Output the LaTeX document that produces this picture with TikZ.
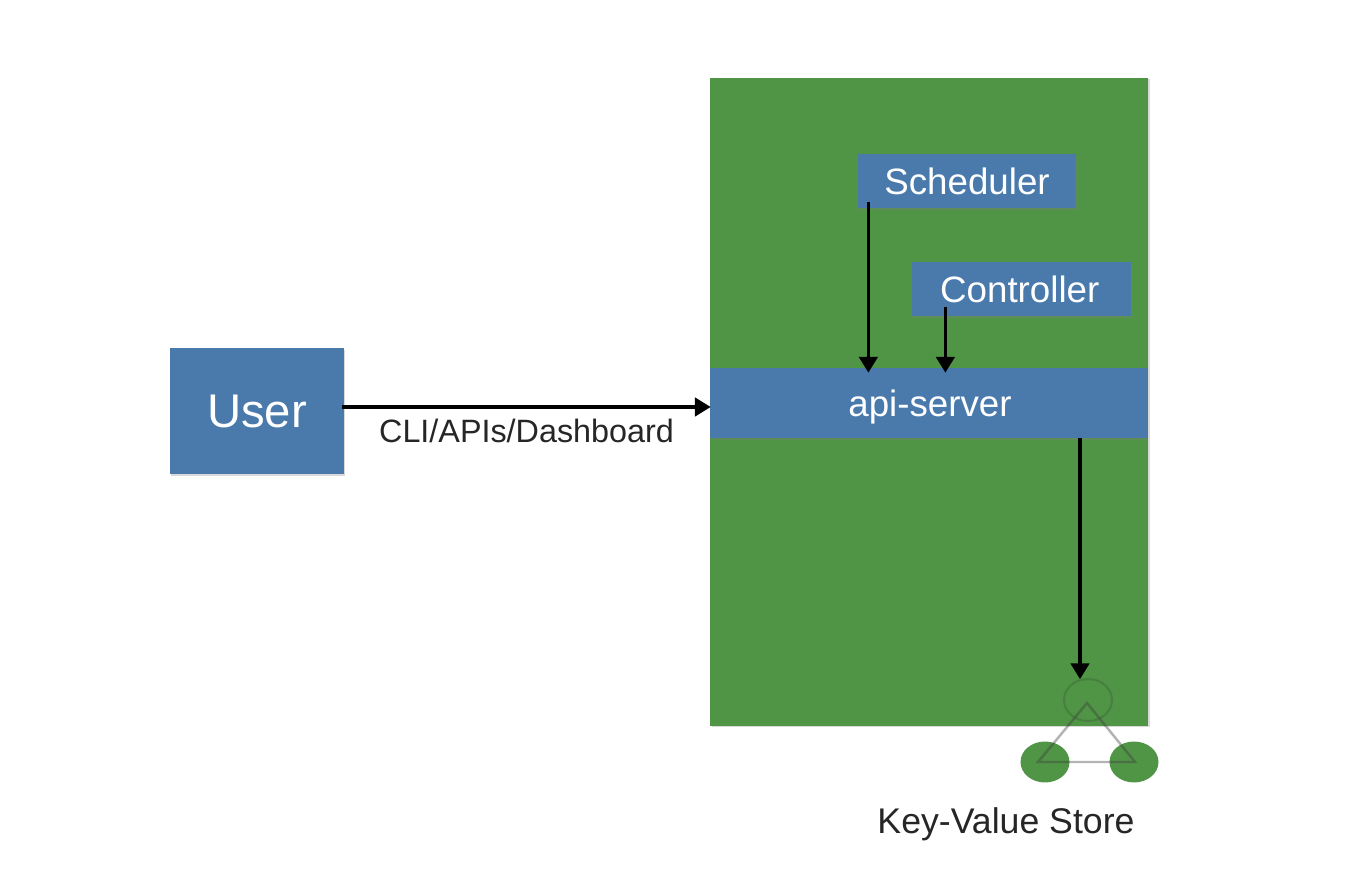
\documentclass[tikz,border=0pt]{standalone}
\usepackage{fontspec}
\setmainfont{Liberation Sans}
\usetikzlibrary{arrows.meta,shapes.geometric,shadows,calc}
\definecolor{boxgreen}{RGB}{80,148,70}
\definecolor{boxblue}{RGB}{74,122,172}
\tikzstyle{panel}=[rectangle,fill=boxgreen,inner sep=0pt,drop shadow={shadow xshift=1.2pt,shadow yshift=-0.8pt,opacity=0.3}]
\tikzstyle{comp}=[rectangle,fill=boxblue,text=white,inner sep=0pt,font=\fontsize{20.9}{24}\selectfont,drop shadow={shadow xshift=0.3pt,shadow yshift=-1.2pt,opacity=0.3}]
\tikzstyle{replica}=[ellipse,fill=boxgreen,minimum width=0.98cm,minimum height=0.82cm,inner sep=0pt]
\tikzstyle{flow} = [draw,line width=1.9pt,-{Triangle[length=9pt,width=10.5pt]}]
\tikzstyle{link} = [draw=black!75,line width=1.4pt,opacity=0.4]

\begin{document}
\begin{tikzpicture}[x=0.02cm,y=-0.02cm]
    \useasboundingbox (0,0) rectangle (1346,888);
    % First we draw the boxes
    \node[panel,minimum width=8.76cm,minimum height=12.96cm] (cluster) at (929,402) {};
    \node[comp,minimum width=8.76cm,minimum height=1.4cm] (api) at (929,403) {};
    \node[inner sep=0pt,text=white,font=\fontsize{20.9}{24}\selectfont] (apitext) at (930,407) {api-server};
    \node[comp,minimum width=4.36cm,minimum height=1.08cm] (sched) at (967,181) {Scheduler};
    \node[comp,minimum width=4.38cm,minimum height=1.08cm] (ctrl) at (1021.5,289) {\hspace{-2pt}Controller};
    \node[comp,minimum width=3.48cm,minimum height=2.52cm,font=\fontsize{26.9}{30}\selectfont] (user) at (257,411) {User};
    % The key-value store
    \foreach \pos/\name in {{(1088,700)/kvtop}, {(1045,762)/kvleft}, {(1134,762)/kvright}}
       \node[replica] (\name) at \pos {};
    \draw[draw=black,opacity=0.12,line width=1.2pt] (kvtop) ellipse [x radius=24,y radius=21];
    \node[font=\fontsize{20.3}{24}\selectfont,text=black!85] (kvlabel) at (1006,824) {Key-Value Store};
    \path[link] ($(kvtop.center)+(-1,3)$) -- ($(kvleft.center)+(-7,0)$) -- ($(kvright.center)+(1,0)$) -- cycle;
    % Connect the boxes with arrows
    \path[flow] ($(user.east)+(-2,-4)$) -- ($(api.west)+(1,4)$)
        node[midway,below=6.2pt,inner sep=0pt,font=\fontsize{18.4}{22}\selectfont,text=black!85] (cli) {CLI/APIs/Dashboard};
    \foreach \source/\dest/\offx/\offy in {sched/api/10.7/-6, ctrl/api/33.7/-9}
    {
        \coordinate (\source out) at ($(\source.south west)+(\offx,\offy)$);
        \path[flow] (\source out) -- ($(\source out |- \dest.north)+(0,5)$);
    }
    \coordinate (kvin) at (1080,700);
    \path[flow] (kvin |- api.south) -- (kvin |- kvtop.north);
\end{tikzpicture}
\end{document}
